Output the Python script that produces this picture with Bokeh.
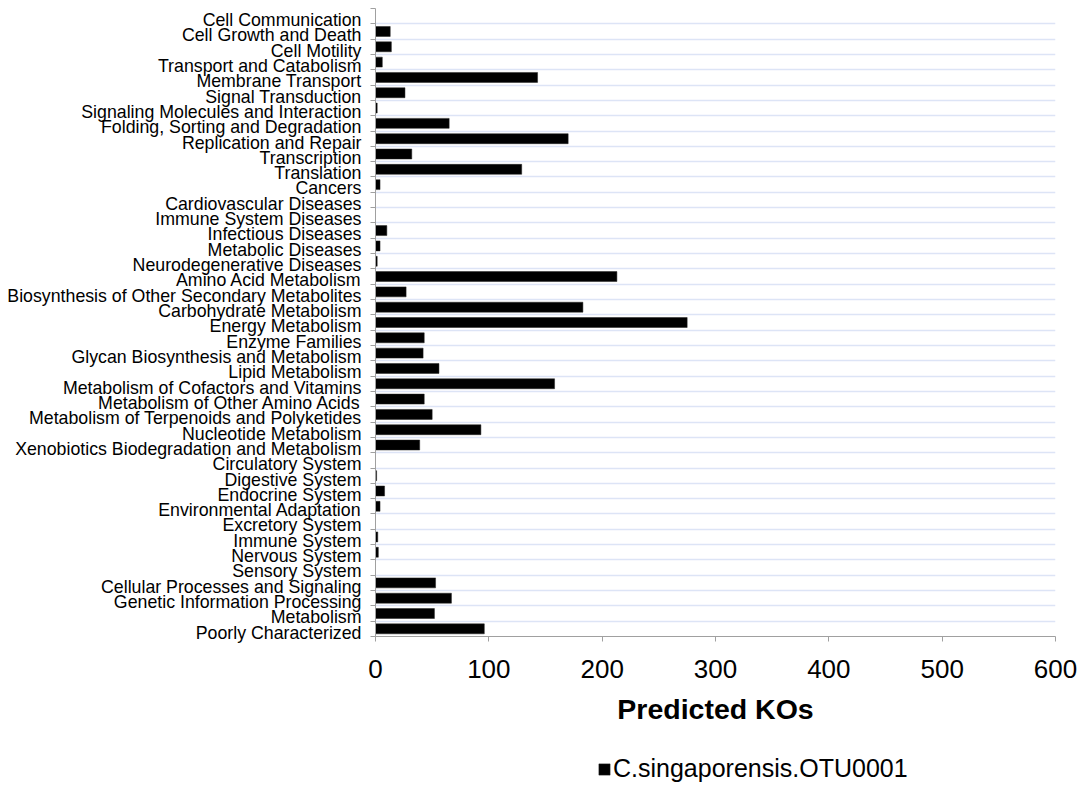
from bokeh.plotting import figure
from bokeh.layouts import column
from bokeh.models import (Range1d, FixedTicker, Legend, LegendItem, ColumnDataSource)
from bokeh.embed import file_html
from bokeh.resources import INLINE

categories = [
    "Cell Communication", "Cell Growth and Death", "Cell Motility",
    "Transport and Catabolism", "Membrane Transport", "Signal Transduction",
    "Signaling Molecules and Interaction", "Folding, Sorting and Degradation",
    "Replication and Repair", "Transcription", "Translation", "Cancers",
    "Cardiovascular Diseases", "Immune System Diseases", "Infectious Diseases",
    "Metabolic Diseases", "Neurodegenerative Diseases", "Amino Acid Metabolism",
    "Biosynthesis of Other Secondary Metabolites", "Carbohydrate Metabolism",
    "Energy Metabolism", "Enzyme Families", "Glycan Biosynthesis and Metabolism",
    "Lipid Metabolism", "Metabolism of Cofactors and Vitamins",
    "Metabolism of Other Amino Acids", "Metabolism of Terpenoids and Polyketides",
    "Nucleotide Metabolism", "Xenobiotics Biodegradation and Metabolism",
    "Circulatory System", "Digestive System", "Endocrine System",
    "Environmental Adaptation", "Excretory System", "Immune System",
    "Nervous System", "Sensory System", "Cellular Processes and Signaling",
    "Genetic Information Processing", "Metabolism", "Poorly Characterized",
]

values = [
    0, 13, 14, 6, 143, 26, 1.5, 65, 170, 32, 129, 4,
    0, 0, 10, 4, 1.5, 213, 27, 183, 275, 43, 42, 56,
    158, 43, 50, 93, 39, 0, 1, 8, 4, 0, 2, 2.5, 0,
    53, 67, 52, 96,
]

series_name = "C.singaporensis.OTU0001"
x_ticks = [0, 100, 200, 300, 400, 500, 600]

n = len(categories)
idx = list(range(n))
source = ColumnDataSource(data=dict(y=idx, v=values, cat=categories))

FONT = "Liberation Sans"
AXIS_GRAY = "#a0a0a0"
BAR_FILL = "black"
BAR_LINE = "#222222"
LABEL_SHIFT = 0.25  # category labels sit slightly below the band centre

p = figure(width=1085, height=745, output_backend="svg", toolbar_location=None,
           x_range=Range1d(0, 600), y_range=Range1d(n - 0.5, -0.5),
           min_border_left=375, min_border_right=30,
           min_border_top=8, min_border_bottom=109)
p.outline_line_color = None
p.background_fill_color = "white"

r = p.hbar(y="y", right="v", left=0, height=0.65, source=source,
           fill_color=BAR_FILL, line_color=BAR_LINE, line_width=0.5)

# x axis
p.xaxis.ticker = FixedTicker(ticks=x_ticks)
p.xaxis.axis_line_color = AXIS_GRAY
p.xaxis.major_tick_line_color = AXIS_GRAY
p.xaxis.major_tick_out = 5
p.xaxis.major_tick_in = 0
p.xaxis.minor_tick_line_color = None
p.xaxis.major_label_text_font = FONT
p.xaxis.major_label_text_font_size = "26px"
p.xaxis.major_label_text_color = "black"
p.xaxis.major_label_standoff = 18
p.xaxis.axis_label = "Predicted KOs"
p.xaxis.axis_label_text_font = FONT
p.xaxis.axis_label_text_font_size = "28.5px"
p.xaxis.axis_label_text_font_style = "bold"
p.xaxis.axis_label_text_color = "black"
p.xaxis.axis_label_standoff = 12

# y axis: labels near category centres, ticks at band boundaries
label_pos = [i + LABEL_SHIFT for i in idx]
ticker = FixedTicker(ticks=label_pos, minor_ticks=[i - 0.5 for i in range(n + 1)])
p.yaxis.ticker = ticker
p.yaxis.major_label_overrides = {lp: c for lp, c in zip(label_pos, categories)}
p.yaxis.axis_line_color = AXIS_GRAY
p.yaxis.major_tick_line_color = None
p.yaxis.major_tick_out = 0
p.yaxis.major_tick_in = 0
p.yaxis.minor_tick_line_color = AXIS_GRAY
p.yaxis.minor_tick_out = 5
p.yaxis.minor_tick_in = 0
p.yaxis.major_label_text_font = FONT
p.yaxis.major_label_text_font_size = "17.75px"
p.yaxis.major_label_text_color = "black"
p.yaxis.major_label_standoff = 9

p.xgrid.grid_line_color = None
p.ygrid.ticker = ticker
p.ygrid.grid_line_color = None
p.ygrid.minor_grid_line_color = "#dde4f6"
p.ygrid.minor_grid_line_width = 1.5

# legend strip below the chart (same series, renderer hidden in this strip)
pl = figure(width=1085, height=41, output_backend="svg", toolbar_location=None,
            x_axis_type=None, y_axis_type=None,
            x_range=Range1d(0, 600), y_range=Range1d(n - 0.5, -0.5),
            min_border_left=0, min_border_right=0,
            min_border_top=0, min_border_bottom=0)
pl.outline_line_color = None
pl.xgrid.visible = False
pl.ygrid.visible = False
rl = pl.hbar(y="y", right="v", left=0, height=0.65, source=source,
             fill_color=BAR_FILL, line_color=BAR_LINE, line_width=0.5,
             visible=False)
legend = Legend(items=[LegendItem(label=series_name, renderers=[rl])],
                location=(222, 3), orientation="horizontal",
                glyph_width=14, glyph_height=14, label_standoff=2,
                padding=0, margin=0, border_line_color=None,
                background_fill_alpha=0,
                label_text_font=FONT, label_text_font_size="25px",
                label_text_color="black")
pl.add_layout(legend, "center")

open("out.html", "w").write(file_html(column(p, pl), INLINE))
